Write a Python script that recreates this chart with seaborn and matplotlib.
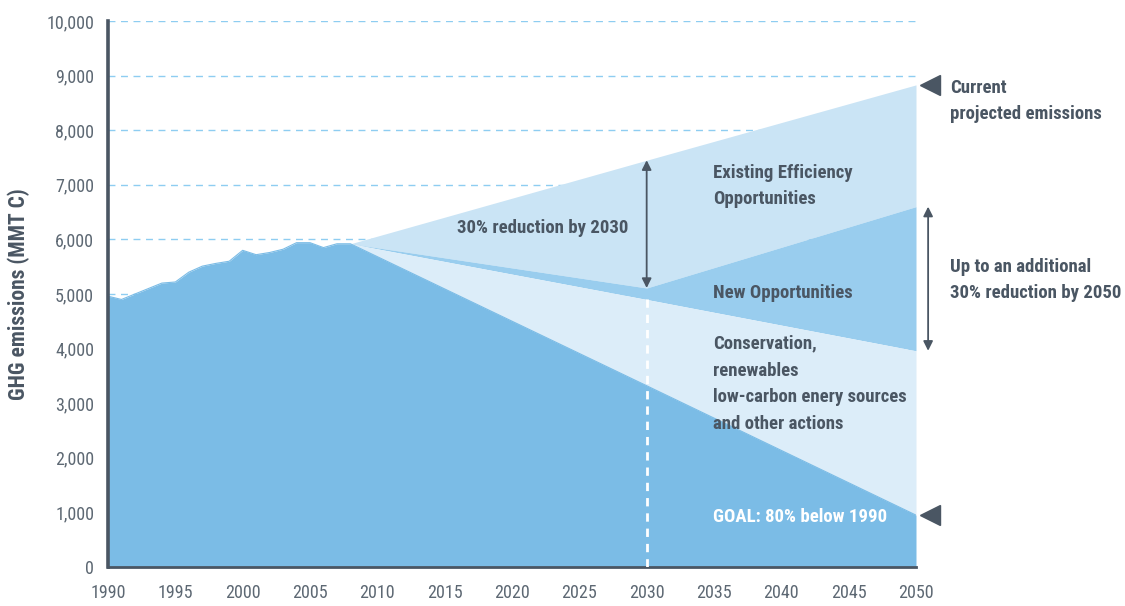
import matplotlib
matplotlib.use("Agg")
import matplotlib.pyplot as plt
import seaborn as sns
import pandas as pd
from matplotlib.ticker import FuncFormatter

# ---- data ----
hist_years = [1990, 1991, 1992, 1993, 1994, 1995, 1996, 1997, 1998, 1999,
              2000, 2001, 2002, 2003, 2004, 2005, 2006, 2007, 2008]
hist_values = [4960, 4900, 5000, 5100, 5200, 5220, 5400, 5510, 5560, 5600,
               5800, 5720, 5760, 5820, 5940, 5940, 5850, 5920, 5920]

proj_years = [2008, 2030, 2050]
current_projected = [5920, 7450, 8830]
efficiency_floor = [5920, 5110, 6600]
new_opp_floor = [5920, 4900, 3960]
goal_path = [5920, 3320, 950]

x_ticks = list(range(1990, 2051, 5))
y_ticks = list(range(0, 10001, 1000))

# ---- style ----
sns.set_theme(style="white")
plt.rcParams['font.family'] = ['Roboto Condensed', 'Roboto', 'DejaVu Sans']
plt.rcParams['font.stretch'] = 'condensed'

DARK = "#4a5663"
TICKC = "#5d6873"
C_HIST = "#7bbce6"
C_EFF = "#cae4f5"
C_NEW = "#99cdee"
C_CONS = "#dcedf9"
C_GRID = "#8ecdf1"

fig = plt.figure(figsize=(11.25, 6.06), dpi=100)
ax = fig.add_axes([108 / 1125, 1 - 567 / 606, 808 / 1125, (567 - 21) / 606])

proj = pd.DataFrame({"year": proj_years, "current": current_projected,
                     "eff": efficiency_floor, "newopp": new_opp_floor, "goal": goal_path})
emis = pd.DataFrame({"year": hist_years + proj_years[1:],
                     "value": hist_values + goal_path[1:]})

# gridlines
for yv in y_ticks[1:]:
    ax.plot([1990, 2050], [yv, yv], color=C_GRID, lw=1.0, ls=(0, (5, 4)), zorder=0)

ax.fill_between(proj["year"], proj["eff"], proj["current"], color=C_EFF, lw=0, zorder=1)
ax.fill_between(proj["year"], proj["newopp"], proj["eff"], color=C_NEW, lw=0, zorder=1)
ax.fill_between(proj["year"], proj["goal"], proj["newopp"], color=C_CONS, lw=0, zorder=1)
ax.fill_between(emis["year"], 0, emis["value"], color=C_HIST, lw=0, zorder=2)
sns.lineplot(data=emis, x="year", y="value", color=C_HIST, lw=0.8, ax=ax, zorder=2)

# white dashed line at 2030
ax.plot([2030, 2030], [0, 4980], color="white", lw=2, ls=(0, (3, 2.5)), zorder=3)

# double arrows
ax.annotate("", xy=(2030, efficiency_floor[1]), xytext=(2030, current_projected[1]),
            arrowprops=dict(arrowstyle="<|-|>", color=DARK, lw=1.3, mutation_scale=14,
                            shrinkA=0, shrinkB=0), zorder=4)
ax.annotate("", xy=(2050.9, new_opp_floor[2]), xytext=(2050.9, efficiency_floor[2]),
            arrowprops=dict(arrowstyle="<|-|>", color=DARK, lw=1.3, mutation_scale=14,
                            shrinkA=0, shrinkB=0), annotation_clip=False, zorder=4)

# triangles
ax.plot([2051.05], [current_projected[2]], marker="<", ms=14, color=DARK, clip_on=False, zorder=5)
ax.plot([2051.05], [goal_path[2]], marker="<", ms=14, color=DARK, clip_on=False, zorder=5)

ax.set_xlim(1990, 2050)
ax.set_ylim(0, 10000)
ax.set_xticks(x_ticks)
ax.set_yticks(y_ticks)
ax.yaxis.set_major_formatter(FuncFormatter(lambda v, p: f"{int(v):,}"))
ax.tick_params(axis="x", colors=DARK, length=8, width=1.5, direction="out",
               labelsize=13, labelcolor=TICKC, pad=4)
ax.tick_params(axis="y", colors=C_GRID, length=6, width=1.0, direction="out",
               labelsize=13, labelcolor=TICKC, pad=4)
ax.yaxis.get_major_ticks()[0].tick1line.set_color(DARK)

for s in ["top", "right"]:
    ax.spines[s].set_visible(False)
ax.spines["left"].set_color(DARK)
ax.spines["left"].set_linewidth(2.6)
ax.spines["bottom"].set_color(DARK)
ax.spines["bottom"].set_linewidth(2.0)
ax.set_xlabel("")
ax.set_ylabel("GHG emissions (MMT C)", fontsize=15.5, fontweight="bold", color=DARK)
ax.yaxis.set_label_coords(-0.097, 0.5)

def ftext(px, py, s, color=DARK, size=13.5):
    fig.text(px / 1125, 1 - py / 606, s, fontsize=size, fontweight="bold", color=color,
             ha="left", va="center", linespacing=1.63)

ftext(950, 101, "Current\nprojected emissions")
ftext(713, 186, "Existing Efficiency\nOpportunities")
ftext(457, 228, "30% reduction by 2030")
ftext(713, 293, "New Opportunities")
ftext(713, 384, "Conservation,\nrenewables\nlow-carbon enery sources\nand other actions")
ftext(713, 517, "GOAL: 80% below 1990", color="white")
ftext(950, 280, "Up to an additional\n30% reduction by 2050")

fig.savefig("out.png", dpi=100)
